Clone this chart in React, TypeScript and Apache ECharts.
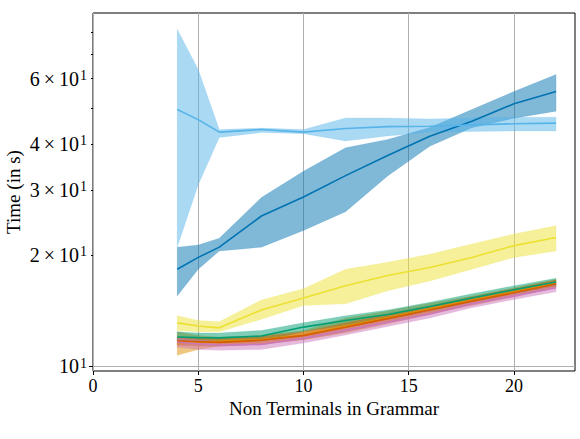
import React, { useEffect, useRef } from "react";
import * as echarts from "echarts";

// Number of non-terminals in the grammar
const nonTerminals = [4, 5, 6, 8, 10, 12, 14, 16, 18, 20, 22];

// Mean run time (s) and the upper / lower edges of its spread, per configuration
const blueMean = [18.3, 19.7, 21.0, 25.5, 28.7, 32.8, 37.2, 41.9, 46.0, 51.3, 55.4];
const blueHigh = [21.0, 21.3, 22.2, 28.6, 33.7, 39.0, 41.1, 44.3, 49.5, 55.4, 61.6];
const blueLow = [15.5, 18.3, 20.5, 21.0, 23.3, 26.2, 32.7, 39.4, 44.2, 46.9, 49.0];

const orangeMean = [11.5, 11.6, 11.7, 11.8, 12.15, 12.85, 13.55, 14.3, 15.1, 15.9, 16.8];
const orangeHigh = [12.4, 12.1, 12.0, 12.1, 12.5, 13.5, 14.1, 14.8, 15.5, 16.3, 17.2];
const orangeLow = [10.7, 11.1, 11.35, 11.5, 11.8, 12.3, 13.0, 13.8, 14.7, 15.5, 16.4];

const greenMean = [12.0, 11.95, 11.93, 12.07, 12.76, 13.3, 13.8, 14.5, 15.3, 16.1, 16.9];
const greenHigh = [12.4, 12.3, 12.3, 12.5, 13.1, 13.7, 14.2, 14.9, 15.7, 16.5, 17.3];
const greenLow = [11.7, 11.65, 11.6, 11.7, 12.4, 12.9, 13.4, 14.1, 14.9, 15.7, 16.5];

const redMean = [11.7, 11.65, 11.6, 11.75, 12.1, 12.75, 13.45, 14.2, 15.0, 15.8, 16.7];
const redHigh = [12.0, 11.95, 11.9, 12.05, 12.4, 13.1, 13.8, 14.55, 15.4, 16.2, 17.1];
const redLow = [11.4, 11.35, 11.3, 11.45, 11.8, 12.4, 13.1, 13.85, 14.6, 15.4, 16.3];

const pinkMean = [11.6, 11.5, 11.4, 11.45, 11.9, 12.5, 13.15, 13.85, 14.75, 15.5, 16.3];
const pinkHigh = [11.95, 11.8, 11.7, 11.75, 12.2, 12.8, 13.45, 14.2, 15.1, 15.85, 16.7];
const pinkLow = [11.25, 11.1, 11.04, 11.1, 11.55, 12.15, 12.8, 13.5, 14.4, 15.15, 15.9];

const yellowMean = [13.1, 12.85, 12.7, 14.2, 15.3, 16.5, 17.6, 18.5, 19.7, 21.2, 22.3];
const yellowHigh = [13.7, 13.3, 13.2, 15.1, 16.2, 18.3, 19.1, 20.1, 21.4, 22.8, 24.0];
const yellowLow = [12.5, 12.4, 12.4, 13.4, 14.6, 14.75, 16.0, 17.0, 18.3, 19.7, 20.5];

const skyMean = [49.5, 46.5, 43.0, 43.7, 43.0, 44.0, 44.5, 44.6, 45.0, 45.3, 45.5];
const skyHigh = [81.7, 63.5, 43.7, 44.1, 43.7, 47.0, 47.0, 46.7, 47.0, 47.2, 47.2];
const skyLow = [21.0, 31.0, 41.6, 42.9, 42.6, 40.7, 42.0, 43.0, 43.2, 43.3, 43.3];

// Tick positions (time ticks are in seconds, drawn on a log10 scale)
const xTicks = [0, 5, 10, 15, 20];
const yMajorTicks = [10];
const yMinorTicks = [20, 30, 40, 50, 60, 70, 80];
const yLabelTicks = [10, 20, 30, 40, 60];

const FONT = "'Liberation Serif', 'DejaVu Serif', serif";
const lg = (v: number) => Math.log10(v);

type Run = { key: string; color: string; mean: number[]; high: number[]; low: number[] };

const runs: Run[] = [
  { key: "blue", color: "#0173B2", mean: blueMean, high: blueHigh, low: blueLow },
  { key: "orange", color: "#DE8F05", mean: orangeMean, high: orangeHigh, low: orangeLow },
  { key: "green", color: "#029E73", mean: greenMean, high: greenHigh, low: greenLow },
  { key: "red", color: "#D55E00", mean: redMean, high: redHigh, low: redLow },
  { key: "pink", color: "#CC78BC", mean: pinkMean, high: pinkHigh, low: pinkLow },
  { key: "yellow", color: "#ECE133", mean: yellowMean, high: yellowHigh, low: yellowLow },
  { key: "sky", color: "#56B4E9", mean: skyMean, high: skyHigh, low: skyLow },
];

function runSeries(r: Run): any[] {
  const bandData = nonTerminals.map((x, i) => [x, lg(r.low[i]), lg(r.high[i])]);
  return [
    {
      // shaded spread between low and high, drawn as one polygon
      type: "custom",
      name: r.key + "-band",
      silent: true,
      xAxisIndex: 0,
      yAxisIndex: 0,
      encode: { x: 0, y: [1, 2] },
      data: bandData,
      renderItem: (params: any, api: any) => {
        if (params.dataIndex !== 0) return null;
        const upper = bandData.map((d) => api.coord([d[0], d[2]]));
        const lower = bandData.map((d) => api.coord([d[0], d[1]])).reverse();
        return {
          type: "polygon",
          shape: { points: upper.concat(lower) },
          style: { fill: r.color, opacity: 0.5, stroke: r.color, lineWidth: 0.5, strokeOpacity: 0.5 },
        };
      },
    },
    {
      type: "line",
      name: r.key,
      showSymbol: false,
      symbol: "none",
      silent: true,
      xAxisIndex: 0,
      yAxisIndex: 0,
      lineStyle: { color: r.color, width: 1.6 },
      itemStyle: { color: r.color },
      data: nonTerminals.map((x, i) => [x, lg(r.mean[i])]),
    },
  ];
}

function yLabel(v: number): string {
  const n = Math.round(Math.pow(10, v));
  if (n === 10) return "{m|10}{s|1}";
  return `{m|${n / 10}\u2009×\u200910}{s|1}`;
}

export default function App() {
  const ref = useRef<HTMLDivElement>(null);

  useEffect(() => {
    if (!ref.current) return;
    const chart = echarts.init(ref.current, undefined, { renderer: "svg" });
    const yMin = 0.987;
    const yMax = 1.956;
    chart.setOption({
      animation: false,
      backgroundColor: "#ffffff",
      grid: {
        left: 93,
        top: 13,
        right: 5,
        bottom: 68,
        containLabel: false,
        outerBoundsMode: "none",
        show: true,
        borderColor: "#000",
        borderWidth: 1,
        backgroundColor: "transparent",
      },
      xAxis: {
        type: "value",
        min: 0,
        max: 22.9,
        name: "Non Terminals in Grammar",
        nameLocation: "middle",
        nameGap: 28,
        nameMoveOverlap: false,
        nameTextStyle: { fontFamily: FONT, fontSize: 19, color: "#000" },
        axisLine: { show: false },
        axisTick: { show: true, inside: false, length: 4, customValues: xTicks, lineStyle: { color: "#000", width: 1 } },
        axisLabel: { customValues: xTicks, fontFamily: FONT, fontSize: 18, color: "#000", margin: 6 },
        splitLine: { show: true, lineStyle: { color: "#b0b0b0", width: 1 } },
      },
      yAxis: [
        {
          type: "value",
          min: yMin,
          max: yMax,
          name: "Time (in s)",
          nameLocation: "middle",
          nameGap: 70,
          nameMoveOverlap: false,
          nameTextStyle: { fontFamily: FONT, fontSize: 19, color: "#000" },
          axisLine: { show: false },
          axisTick: {
            show: true,
            inside: false,
            length: 4,
            customValues: yMajorTicks.map(lg),
            lineStyle: { color: "#000", width: 1 },
          },
          axisLabel: {
            customValues: yLabelTicks.map(lg),
            formatter: yLabel,
            margin: 6,
            color: "#000",
            rich: {
              m: { fontFamily: FONT, fontSize: 20, color: "#000" },
              s: { fontFamily: FONT, fontSize: 14, color: "#000", verticalAlign: "top", padding: [0, 0, 0, 1] },
            },
          },
          splitLine: { show: true, lineStyle: { color: "#b0b0b0", width: 1 } },
        },
        {
          type: "value",
          min: yMin,
          max: yMax,
          position: "left",
          axisLine: { show: false },
          axisTick: {
            show: true,
            inside: false,
            length: 2,
            customValues: yMinorTicks.map(lg),
            lineStyle: { color: "#000", width: 1 },
          },
          axisLabel: { show: false },
          splitLine: { show: false },
        },
      ],
      series: runs.flatMap(runSeries),
    });
    return () => chart.dispose();
  }, []);

  return (
    <div
      ref={ref}
      style={{ position: "absolute", left: 0, top: 0, width: 580, height: 439, background: "#fff" }}
    />
  );
}
